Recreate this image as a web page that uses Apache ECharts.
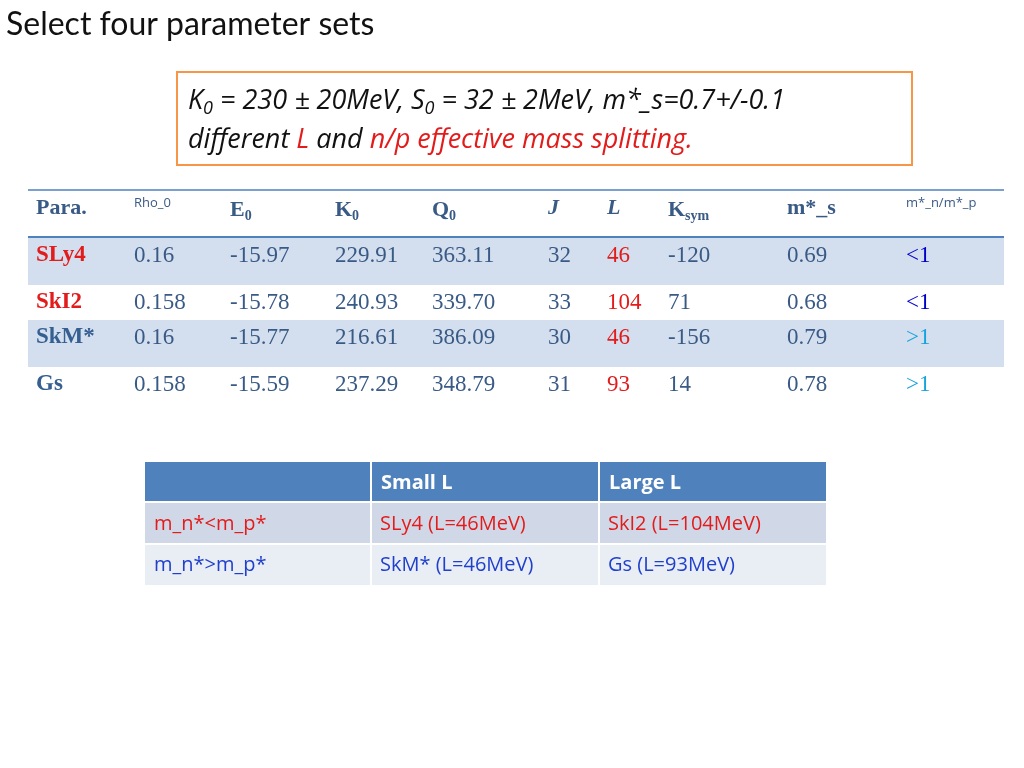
<!DOCTYPE html>
<html><head><meta charset="utf-8">
<script src="https://cdn.jsdelivr.net/npm/echarts@6/dist/echarts.min.js"></script>
<style>html,body{margin:0;padding:0;background:#fff}#c{width:1024px;height:768px}</style>
</head><body><div id="c"></div>
<script>
const title = "Select four parameter sets";
const headers = ["{b|Para.}","{sm|Rho_0}","{b|E}{sub|0}","{b|K}{sub|0}","{b|Q}{sub|0}","{bi|J}","{bi|L}","{b|K}{sub|sym}","{b|m*_s}","{sm|m*_n/m*_p}"];
const models = ["SLy4","SkI2","SkM*","Gs"];
const modelColors = ["#e31b1b","#e31b1b","#365f91","#365f91"];
const rho0 = ["0.16","0.158","0.16","0.158"];
const E0 = ["-15.97","-15.78","-15.77","-15.59"];
const K0 = ["229.91","240.93","216.61","237.29"];
const Q0 = ["363.11","339.70","386.09","348.79"];
const J = ["32","33","30","31"];
const L = ["46","104","46","93"];
const Ksym = ["-120","71","-156","14"];
const ms = ["0.69","0.68","0.79","0.78"];
const ratio = ["<1","<1",">1",">1"];
const ratioColors = ["#0000cc","#0000cc","#17a3dc","#17a3dc"];
const t2Header = ["","Small L","Large L"];
const t2Rows = [["m_n*<m_p*","SLy4 (L=46MeV)","SkI2 (L=104MeV)"],["m_n*>m_p*","SkM* (L=46MeV)","Gs (L=93MeV)"]];
const t2Colors = [["#e31b1b","#e31b1b","#e31b1b"],["#1f3fcc","#1f3fcc","#1f3fcc"]];

const chart = echarts.init(document.getElementById('c'));
const g = [];
const tc = "#3a5a86";
const serif = "'Liberation Serif', serif";
const sans = "'Open Sans','Liberation Sans',sans-serif";
g.push({type:'text',left:6,top:9,style:{text:title,font:"32px Lato, 'Open Sans', sans-serif",fill:'#111'}});
g.push({type:'rect',shape:{x:177,y:72,width:735,height:93},style:{fill:'#fff',stroke:'#f79646',lineWidth:2}});
g.push({type:'text',x:188,y:82,style:{text:"{i|K}{is|0}{i| = 230 ± 20MeV, S}{is|0}{i| = 32 ± 2MeV, m*_s=0.7+/-0.1}\n{i|different }{r|L}{i| and }{r|n/p effective mass splitting.}",
  rich:{i:{fontFamily:sans,fill:'#111',lineHeight:39,fontSize:27,fontStyle:'italic'},
        is:{fontFamily:sans,fontSize:18,fontStyle:'italic',fill:'#111',padding:[14,0,0,0],lineHeight:39},
        r:{fontFamily:sans,fontSize:27,fontStyle:'italic',fill:'#e31b1b',lineHeight:39}}}});
const colX = [36,134,230,335,432,548,607,668,787,906];
const rowY = [[237,285,true],[285,320,false],[320,367,true],[367,410,false]];
rowY.forEach(r=>{ if(r[2]) g.push({type:'rect',shape:{x:28,y:r[0],width:976,height:r[1]-r[0]},style:{fill:'#d3dfee'}}); });
g.push({type:'line',shape:{x1:28,y1:190,x2:1004,y2:190},style:{stroke:'#4f81bd',lineWidth:1.5}});
g.push({type:'line',shape:{x1:28,y1:237,x2:1004,y2:237},style:{stroke:'#4f81bd',lineWidth:2}});
const rich1 = {b:{fontFamily:serif,fontWeight:'bold',fontSize:22,fill:tc},
  bi:{fontFamily:serif,fontWeight:'bold',fontStyle:'italic',fontSize:22,fill:tc},
  sub:{fontFamily:serif,fontWeight:'bold',fontSize:14,fill:tc,padding:[12,0,0,0]},
  sm:{fontFamily:sans,fontSize:13,fill:tc,padding:[0,0,14,0]}};
headers.forEach((h,i)=>g.push({type:'text',x:colX[i],y:197,style:{text:h,rich:rich1}}));
const cols = [models,rho0,E0,K0,Q0,J,L,Ksym,ms,ratio];
const ys = [244,291,326,373];
models.forEach((m,r)=>{
  cols.forEach((col,c)=>{
    let fill = tc, weight='normal';
    if(c===0){fill=modelColors[r];weight='bold';}
    if(c===6) fill='#e31b1b';
    if(c===9) fill=ratioColors[r];
    g.push({type:'text',x:colX[c],y:ys[r],style:{text:col[r],fontFamily:serif,fontSize:23,fontWeight:weight,fill:fill}});
  });
});
const x2 = [145,371,599,826];
const y2 = [462,502,544,585];
g.push({type:'rect',shape:{x:145,y:462,width:681,height:40},style:{fill:'#4f81bd'}});
g.push({type:'rect',shape:{x:145,y:502,width:681,height:42},style:{fill:'#d0d8e8'}});
g.push({type:'rect',shape:{x:145,y:544,width:681,height:41},style:{fill:'#e9edf4'}});
[371,599].forEach(x=>g.push({type:'line',shape:{x1:x,y1:462,x2:x,y2:585},style:{stroke:'#fff',lineWidth:2}}));
g.push({type:'line',shape:{x1:145,y1:502,x2:826,y2:502},style:{stroke:'#fff',lineWidth:2}});
g.push({type:'line',shape:{x1:145,y1:544,x2:826,y2:544},style:{stroke:'#fff',lineWidth:2}});
t2Header.forEach((h,i)=>g.push({type:'text',x:x2[i]+10,y:483,style:{text:h,font:"bold 20px 'Open Sans', sans-serif",fill:'#fff',verticalAlign:'middle'}}));
t2Rows.forEach((row,r)=>row.forEach((t,c)=>g.push({type:'text',x:x2[c]+9,y:(y2[r+1]+y2[r+2])/2+1,style:{text:t,font:"20px 'Open Sans', sans-serif",fill:t2Colors[r][c],verticalAlign:'middle'}})));
chart.setOption({animation:false,graphic:g});
</script></body></html>
